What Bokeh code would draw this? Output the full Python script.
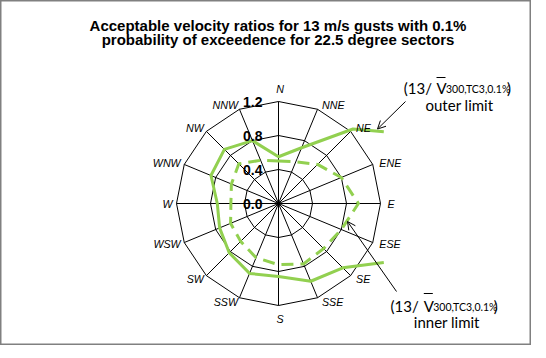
import numpy as np
from bokeh.plotting import figure
from bokeh.models import Range1d, Arrow, OpenHead
from bokeh.core.properties import value
from bokeh.embed import file_html
from bokeh.resources import INLINE

# ---------------- data ----------------
directions = ["N", "NNE", "NE", "ENE", "E", "ESE", "SE", "SSE",
              "S", "SSW", "SW", "WSW", "W", "WNW", "NW", "NNW"]
outer_limit = [0.55, 0.71, 1.24, 2.05, 2.0, 1.7, 1.07, 0.99,
               0.86, 0.89, 0.82, 0.75, 0.72, 0.86, 0.90, 0.80]
inner_limit = [0.50, 0.53, 0.65, 0.80, 0.94, 0.80, 0.75, 0.77,
               0.72, 0.69, 0.63, 0.61, 0.56, 0.60, 0.66, 0.55]
radial_ticks = [0.0, 0.4, 0.8, 1.2]
tick_labels = ["0.0", "0.4", "0.8", "1.2"]
title_lines = ["Acceptable velocity ratios for 13 m/s gusts with 0.1%",
               "probability of exceedence for 22.5 degree sectors"]
note_prefix = "(13/"
note_symbol = "V"
note_subscript = "300,TC3,0.1%"
note_suffix = ")"
outer_note = "outer limit"
inner_note = "inner limit"

# ---------------- layout ----------------
W, H = 531, 345
OX, OY = 0, 0           # page offset of the figure
CX, CY = 278, 203       # radar centre (page px)
RMAX_PX = 102
rmax = radial_ticks[-1]
S = RMAX_PX / rmax      # px per unit
CLIP_X_PX = 383.3       # right edge of the plot area (lines are clipped there)
GREEN = "#92D050"
FONT = value("Liberation Sans")
NOTE_FONT = value("Lato")


def to_data(X, Y):
    return (X - CX) / S, (CY - Y) / S


p = figure(width=W, height=H, output_backend="svg", toolbar_location=None,
           x_range=Range1d((OX - CX) / S, (OX + W - CX) / S),
           y_range=Range1d((CY - OY - H) / S, (CY - OY) / S),
           x_axis_type=None, y_axis_type=None, min_border=0)
p.grid.visible = False
p.outline_line_color = "#808080"
p.outline_line_width = 2
p.background_fill_color = "white"
p.border_fill_color = "white"

n = len(directions)
theta = np.arange(n) * 2 * np.pi / n
ux, uy = np.sin(theta), np.cos(theta)

# rings
ring_xs = [list(np.append(ux, ux[0]) * r) for r in radial_ticks[1:]]
ring_ys = [list(np.append(uy, uy[0]) * r) for r in radial_ticks[1:]]
p.multi_line(ring_xs, ring_ys, line_color="black", line_width=1)
# spokes
p.multi_line([[0, rmax * a] for a in ux], [[0, rmax * b] for b in uy],
             line_color="black", line_width=1)


def clip_closed(xs, ys, xmax):
    xs = list(xs) + [xs[0]]
    ys = list(ys) + [ys[0]]
    segs, cur = [], []
    for i in range(len(xs) - 1):
        x0, y0, x1, y1 = xs[i], ys[i], xs[i + 1], ys[i + 1]
        in0, in1 = x0 <= xmax, x1 <= xmax
        if in0 and not cur:
            cur = [(x0, y0)]
        if in0 and in1:
            cur.append((x1, y1))
        elif in0 and not in1:
            t = (xmax - x0) / (x1 - x0)
            cur.append((xmax, y0 + t * (y1 - y0)))
            segs.append(cur)
            cur = []
        elif (not in0) and in1:
            t = (xmax - x0) / (x1 - x0)
            cur = [(xmax, y0 + t * (y1 - y0)), (x1, y1)]
    if cur:
        segs.append(cur)
    if len(segs) > 1 and segs[-1][-1] == segs[0][0]:
        segs[0] = segs[-1] + segs[0][1:]
        segs.pop()
    return segs


xclip = (CLIP_X_PX - CX) / S
ox = np.array(outer_limit) * ux
oy = np.array(outer_limit) * uy
segs = clip_closed(ox, oy, xclip)
p.multi_line([[q[0] for q in s] for s in segs], [[q[1] for q in s] for s in segs],
             line_color=GREEN, line_width=3, line_join="round", line_cap="butt")

ix = list(np.array(inner_limit) * ux) + [inner_limit[0] * ux[0]]
iy = list(np.array(inner_limit) * uy) + [inner_limit[0] * uy[0]]
p.line(ix, iy, line_color=GREEN, line_width=3, line_dash="12 7", line_join="round")

# direction labels
groups = {"left": ([], [], []), "right": ([], [], []), "center": ([], [], [])}
for d, a, b in zip(directions, ux, uy):
    s2 = a * a
    if abs(a) < 0.01:
        key, dx, dy = "center", 1.5, -13 * b
    elif a > 0:
        key, dx, dy = "left", 4 + 3 * s2, -5 * b
    else:
        key, dx, dy = "right", -(1 + 3 * s2), -5 * b
    g = groups[key]
    g[0].append(rmax * a + dx / S)
    g[1].append(rmax * b - dy / S)
    g[2].append(d)
for key, (gx, gy, gt) in groups.items():
    p.text(gx, gy, text=gt, text_align=key, text_baseline="middle",
           text_font=FONT, text_font_style="italic", text_font_size="10.7px",
           text_color="black")

# radial tick labels
p.text([-16 / S] * len(radial_ticks), radial_ticks, text=tick_labels,
       text_align="right", text_baseline="middle", text_font=FONT,
       text_font_style="bold", text_font_size="14px", text_color="black")

# title
for line, ty in zip(title_lines, [25, 38.5]):
    tx, tyd = to_data(277.5, ty)
    p.text([tx], [tyd], text=[line], text_align="center", text_baseline="middle",
           text_font=FONT, text_font_style="bold", text_font_size="15px",
           text_color="black")


def note(x0, xv, xs, xe, mid, bar_y, label_x, label_mid, label):
    for txt, xx, size, ym in [(note_prefix, x0, "15px", mid),
                              (note_symbol, xv, "15px", mid),
                              (note_subscript, xs, "10.5px", mid + 1.5),
                              (note_suffix, xe, "15px", mid)]:
        dx, dy = to_data(xx, ym)
        p.text([dx], [dy], text=[txt], text_align="left", text_baseline="middle",
               text_font=NOTE_FONT, text_font_size=size, text_color="black")
    a0 = to_data(xv, bar_y)
    a1 = to_data(xv + 9, bar_y)
    p.segment([a0[0]], [a0[1]], [a1[0]], [a1[1]], line_color="black", line_width=1)
    lx, ly = to_data(label_x, label_mid)
    p.text([lx], [ly], text=[label], text_align="left", text_baseline="middle",
           text_font=NOTE_FONT, text_font_size="15px", text_color="black")


note(403.3, 436, 445.5, 506.5, 87, 77, 425, 104.3, outer_note)
note(390, 423.3, 432.7, 493.3, 305, 293, 413.3, 321.7, inner_note)

# arrows
for (xa, ya, xb, yb) in [(405, 101, 377, 128.5), (396, 291, 347, 221)]:
    s0 = to_data(xa, ya)
    s1 = to_data(xb, yb)
    p.add_layout(Arrow(end=OpenHead(size=8, line_width=1, line_color="black"),
                       x_start=s0[0], y_start=s0[1], x_end=s1[0], y_end=s1[1],
                       line_color="black", line_width=1))

open("out.html", "w").write(file_html(p, INLINE))
